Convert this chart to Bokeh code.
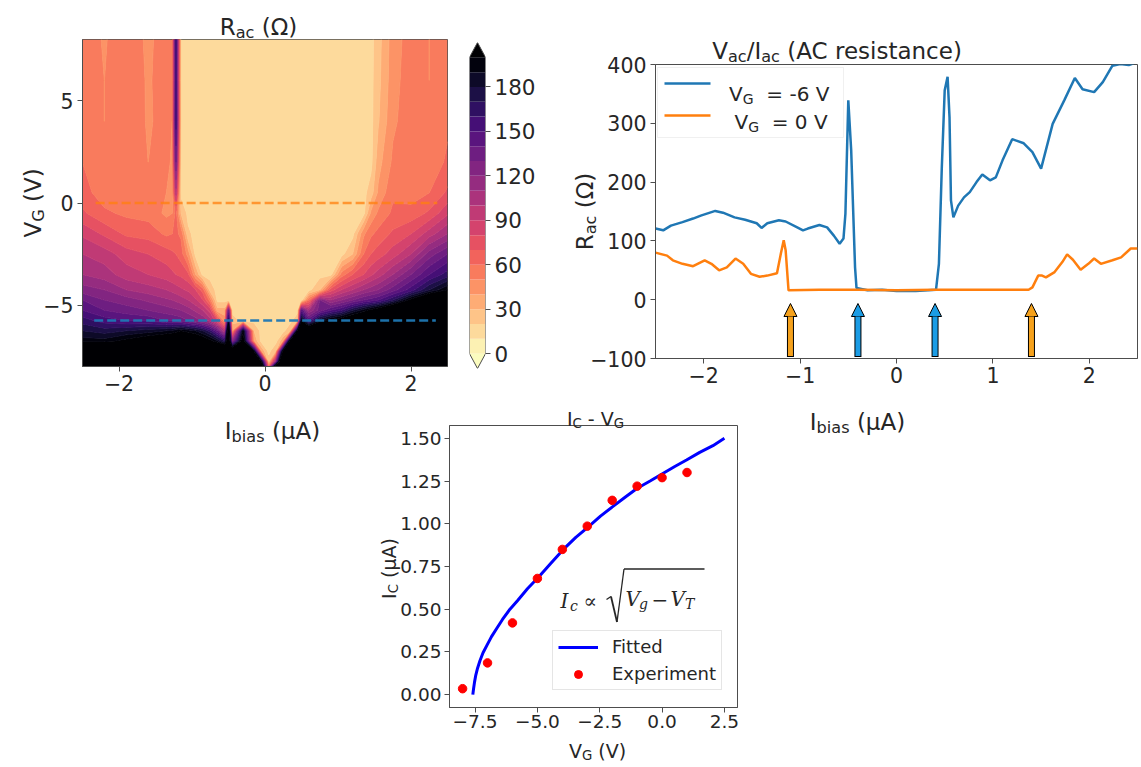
import numpy as np
from math import pi
from bokeh.plotting import figure
from bokeh.layouts import row, column
from bokeh.models import (Range1d, LinearAxis, FixedTicker, Label, Arrow, NormalHead,
                          BoxAnnotation, Legend, LegendItem)
from bokeh.palettes import Magma256
from bokeh.embed import file_html
from bokeh.resources import INLINE

# ---------------- data ----------------
S = 17  # superconducting-state R_ac (Ohm)
hm_i = [-2.5, -2.2, -1.9, -1.6, -1.35, -1.27, -1.22, -1.15, -1.05, -0.95, -0.85, -0.75,
        -0.65, -0.55, -0.5, -0.45, -0.3, -0.15, -0.05, 0.05, 0.15, 0.25, 0.35, 0.45, 0.5,
        0.6, 0.75, 0.9, 1.05, 1.2, 1.35, 1.45, 1.55, 1.75, 2.0, 2.25, 2.5]
hm_vg = [8, 6, 4, 2, 0.5, -0.5, -1.5, -2.5, -3.5, -4.25, -4.75, -5.25, -5.75, -6.25,
         -6.75, -7.25, -7.75, -8]
r_p8 = [56, 49, 57, 48, 55, 52, 165] + [S] * 25 + [26, 45, 55, 50, 56]
r_p6 = [57, 50, 56, 49, 54, 51, 160] + [S] * 25 + [27, 46, 56, 50, 57]
r_p4 = [58, 50, 57, 49, 53, 50, 165] + [S] * 25 + [29, 48, 56, 51, 58]
r_p2 = [60, 52, 58, 50, 52, 49, 140] + [S] * 25 + [36, 52, 58, 53, 62]
r_p05 = [64, 55, 58, 52, 50, 48, 105] + [S] * 24 + [25, 42, 58, 55, 60, 72]
r_m05 = [72, 62, 58, 56, 48, 50, 65, 30] + [S] * 23 + [42, 52, 62, 64, 72, 88]
r_m15 = [88, 78, 68, 66, 58, 60, 62, 58, 22] + [S] * 21 + [48, 58, 63, 72, 80, 95, 110]
r_m25 = [100, 95, 85, 80, 75, 72, 70, 65, 45] + [S] * 20 + [30, 60, 70, 75, 85, 100, 125, 140]
r_m35 = ([110, 105, 95, 90, 85, 82, 80, 78, 72, 40] + [S] * 18 +
         [55, 70, 80, 88, 95, 110, 130, 150, 165])
r_m425 = ([125, 120, 110, 105, 100, 97, 95, 92, 88, 80, 65, 25] + [S] * 14 +
          [30, 75, 90, 100, 110, 115, 120, 135, 155, 180, 200])
r_m475 = ([140, 130, 125, 118, 112, 110, 108, 105, 100, 92, 80, 55] + [S] * 13 +
          [60, 130, 110, 120, 130, 140, 145, 150, 170, 205, 240, 260])
r_m525 = ([150, 140, 135, 130, 125, 123, 122, 120, 115, 108, 100, 85, 35, 35, 140] + [S] * 9 +
          [150, 110, 135, 150, 160, 180, 195, 205, 215, 240, 265, 285, 300])
r_m575 = ([165, 155, 150, 148, 140, 139, 138, 135, 130, 125, 118, 105, 80, 45, 180, 25] +
          [S] * 7 + [30, 200, 150, 190, 205, 215, 230, 240, 250, 260, 280, 300, 330, 350])
r_m625 = ([180, 175, 180, 185, 190, 192, 195, 200, 195, 190, 180, 165, 140, 100, 250, 40, 200,
           30] + [S] * 4 + [30, 220, 240, 250] + [300] * 11)
r_m675 = ([195, 195, 205, 215, 225, 228, 230, 235, 230, 225, 215, 205, 190, 170, 250, 120, 220,
           40] + [S] * 3 + [40, 230] + [300] * 14)
r_m725 = ([260, 270] + [280] * 10 + [270, 260, 260, 250, 240, 200, 40, S, 30, 220] + [300] * 15)
r_m775 = [300] * 18 + [200, 25, 120] + [300] * 16
r_m8 = [300] * 18 + [250, 60, 250] + [300] * 16
hm_r = [r_p8, r_p6, r_p4, r_p2, r_p05, r_m05, r_m15, r_m25, r_m35, r_m425, r_m475,
        r_m525, r_m575, r_m625, r_m675, r_m725, r_m775, r_m8]

cut_vg = [0.0, -5.75]          # gate voltages of the two cuts (dashed lines)
cut_i_start = [-2.32, -2.34]
cut_i_end = [2.36, 2.34]

cb_levels = list(range(0, 201, 10))
cb_over = 1000
cb_ticks = [0, 30, 60, 90, 120, 150, 180]

blue_i = [-2.5, -2.42, -2.34, -2.22, -2.11, -2.03, -1.88, -1.8, -1.68, -1.57, -1.45, -1.4,
          -1.34, -1.22, -1.15, -1.03, -0.97, -0.92, -0.8, -0.72, -0.65, -0.59, -0.55, -0.53,
          -0.5, -0.47, -0.43, -0.415, -0.3, -0.15, 0.0, 0.2, 0.41, 0.44, 0.47, 0.5, 0.53,
          0.55, 0.565, 0.59, 0.64, 0.7, 0.76, 0.83, 0.89, 0.97, 1.03, 1.1, 1.2, 1.32, 1.41,
          1.5, 1.62, 1.74, 1.85, 1.93, 2.05, 2.14, 2.24, 2.32, 2.41, 2.46]
blue_r = [121, 118, 126, 132, 138, 143, 151, 148, 140, 136, 130, 122, 130, 135, 133, 123,
          118, 121, 127, 123, 109, 95, 104, 146, 339, 254, 55, 20, 16, 17, 15, 15, 17, 61,
          225, 356, 379, 310, 169, 140, 160, 174, 183, 200, 213, 203, 208, 237, 273, 266,
          251, 223, 299, 339, 377, 358, 353, 370, 398, 401, 399, 402]
orange_i = [-2.5, -2.38, -2.32, -2.22, -2.11, -1.99, -1.92, -1.84, -1.76, -1.67, -1.59,
            -1.51, -1.42, -1.34, -1.24, -1.2, -1.17, -1.15, -1.12, -0.8, -0.4, 0.0, 0.4,
            0.8, 1.2, 1.37, 1.41, 1.47, 1.51, 1.55, 1.64, 1.72, 1.77, 1.83, 1.91, 1.99,
            2.05, 2.12, 2.24, 2.33, 2.43, 2.5]
orange_r = [80, 75, 67, 61, 57, 67, 61, 50, 55, 70, 61, 44, 39, 41, 45, 78, 101, 84, 16, 17,
            17, 16, 17, 17, 17, 17, 21, 41, 41, 38, 47, 64, 77, 68, 51, 61, 70, 61, 67, 72,
            87, 87]
crit_i = [-1.10, -0.40, 0.40, 1.40]
crit_series = ["0 V", "-6 V", "-6 V", "0 V"]

exp_vg = [-8, -7, -6, -5, -4, -3, -2, -1, 0, 1]
exp_ic = [0.035, 0.186, 0.42, 0.68, 0.85, 0.986, 1.137, 1.22, 1.27, 1.30]
fit_vg = [-7.59, -7.56, -7.52, -7.47, -7.40, -7.30, -7.18, -7.02, -6.84, -6.62, -6.40,
          -6.10, -5.80, -5.40, -4.94, -4.45, -3.96, -3.46, -2.97, -2.47, -1.98, -1.47,
          -1.01, -0.48, -0.02, 0.51, 0.98, 1.51, 2.04, 2.50]
fit_ic = [0.0, 0.035, 0.075, 0.115, 0.155, 0.20, 0.245, 0.29, 0.34, 0.39, 0.44, 0.50, 0.55,
          0.62, 0.69, 0.77, 0.85, 0.92, 0.98, 1.045, 1.10, 1.157, 1.206, 1.25, 1.29, 1.335,
          1.373, 1.418, 1.457, 1.50]

hm_xticks, hm_xlabels = [-2, 0, 2], ["\u22122", "0", "2"]
hm_yticks, hm_ylabels = [-5, 0, 5], ["\u22125", "0", "5"]
rac_xticks, rac_xlabels = [-2, -1, 0, 1, 2], ["\u22122", "\u22121", "0", "1", "2"]
rac_yticks = [-100, 0, 100, 200, 300, 400]
rac_ylabels = ["\u2212100", "0", "100", "200", "300", "400"]
ic_xticks = [-7.5, -5.0, -2.5, 0.0, 2.5]
ic_xlabels = ["\u22127.5", "\u22125.0", "\u22122.5", "0.0", "2.5"]
ic_yticks = [0.0, 0.25, 0.5, 0.75, 1.0, 1.25, 1.5]
ic_ylabels = ["0.00", "0.25", "0.50", "0.75", "1.00", "1.25", "1.50"]

# ---------------- styles ----------------
FONT = "DejaVu Sans"
MATHFONT = "DejaVu Serif"
TXT = "#262626"
SPINE = "#4d4d4d"
C0, C1 = "#1f77b4", "#ff7f0e"
ARROW_COL = {"0 V": "#f5a11c", "-6 V": "#1b9ce5"}
SUB, DROP = 0.7, 0.24
PAGE_W, STACK_H, PAGE_H = 1141, 762, 766

W = {' ': 0.318, '(': 0.390, ')': 0.390, '-': 0.361, '/': 0.337, '=': 0.838, 'A': 0.684,
     'C': 0.698, 'G': 0.775, 'I': 0.295, 'R': 0.695, 'V': 0.684, 'a': 0.613, 'b': 0.635,
     'c': 0.550, 'e': 0.615, 'i': 0.278, 'n': 0.634, 'r': 0.411, 's': 0.521, 't': 0.392,
     '\u03a9': 0.765, '\u03bc': 0.636, '\u2212': 0.838}
for d in "0123456789":
    W[d] = 0.636


def tw(s):
    return sum(W.get(c, 0.6) for c in s)


class Panel:
    def __init__(self, fig, fl, ft, fw, fh):
        self.f, self.fl, self.ft, self.fw, self.fh = fig, fl, ft, fw, fh

    def dx(self, px):
        xr = self.f.x_range
        return xr.start + (px - self.fl) / self.fw * (xr.end - xr.start)

    def dy(self, py):
        yr = self.f.y_range
        return yr.end - (py - self.ft) / self.fh * (yr.end - yr.start)

    def label(self, px, py, text, size, angle=0.0, font=FONT, style="normal"):
        self.f.add_layout(Label(x=self.dx(px), y=self.dy(py), text=text, angle=angle,
                                text_font=font, text_font_size=f"{size:.1f}px",
                                text_font_style=style, text_color=TXT,
                                text_align="left", text_baseline="alphabetic"))

    def rich(self, parts, px, py, size, align="center", vertical=False):
        ws = [tw(t) * size * (SUB if s else 1) for t, s in parts]
        total = sum(ws)
        pos = {"center": -total / 2, "left": 0.0, "right": -total}[align]
        for (t, s), w in zip(parts, ws):
            fs = size * (SUB if s else 1)
            lead = len(t) - len(t.lstrip(" "))
            p0 = pos + tw(" ") * fs * lead
            shift = size * DROP if s else 0.0
            if vertical:
                self.label(px + shift, py - p0, t.strip(" "), fs, angle=pi / 2)
            else:
                self.label(px + p0, py + shift, t.strip(" "), fs)
            pos += w

    def seg(self, x0, y0, x1, y1, color=TXT, width=1.3):
        self.f.add_layout(Arrow(start=None, end=None, x_start=self.dx(x0), y_start=self.dy(y0),
                                x_end=self.dx(x1), y_end=self.dy(y1), line_color=color,
                                line_width=width))


def make_fig(xr, yr, fw, fh, bl, br, bt, bb, axes=True):
    kw = dict(x_range=Range1d(*xr), y_range=Range1d(*yr), frame_width=fw, frame_height=fh,
              min_border_left=bl, min_border_right=br, min_border_top=bt, min_border_bottom=bb,
              output_backend="svg", toolbar_location=None, tools="", title=None)
    if not axes:
        kw.update(x_axis_type=None, y_axis_type=None)
    p = figure(**kw)
    p.frame_align = False
    p.background_fill_color = "white"
    p.border_fill_color = "white"
    p.outline_line_color = SPINE
    p.outline_line_width = 1
    if axes:
        p.grid.visible = False
    return p


def style_axis(ax, ticks, labels, size, standoff):
    ax.ticker = FixedTicker(ticks=ticks)
    ax.major_label_overrides = dict(zip(ticks, labels))
    ax.major_label_text_font = FONT
    ax.major_label_text_font_size = f"{size}px"
    ax.major_label_text_color = TXT
    ax.major_label_standoff = standoff
    ax.major_tick_in = 0
    ax.major_tick_out = 5
    ax.major_tick_line_color = SPINE
    ax.minor_tick_line_color = None
    ax.axis_line_color = SPINE


# ---------------- text overlay (whole page, transparent) ----------------
OV = make_fig((0, PAGE_W), (PAGE_H, 0), PAGE_W, PAGE_H, 0, 0, 0, 0, axes=False)
OV.outline_line_color = None
OV.background_fill_alpha = 0
OV.border_fill_alpha = 0
POV = Panel(OV, 0, 0, PAGE_W, PAGE_H)

# ---------------- heatmap ----------------
A = make_fig((-2.5, 2.5), (-8, 8), 365, 327, 82, 13, 39, 74)
for row_vals in hm_r:
    assert len(row_vals) == len(hm_i)
Z = np.array(hm_r[::-1], dtype=float)
vg_up = np.array(hm_vg[::-1], dtype=float)
n_b = len(cb_levels) - 1
band_colors = [Magma256[min(int((1 - (k + 0.5) / n_b) * 256), 255)] for k in range(n_b)]
band_colors_ext = band_colors + [Magma256[0]]
levels_ext = cb_levels + [cb_over]
line_colors = [band_colors_ext[0]] + band_colors_ext
A.contour(np.array(hm_i), vg_up, Z, levels_ext, fill_color=band_colors_ext,
          line_color=line_colors, line_width=1)
for vg, i0, i1, col, al in zip(cut_vg, cut_i_start, cut_i_end, [C1, C0], [0.75, 0.95]):
    A.line([i0, i1], [vg, vg], line_color=col, line_alpha=al, line_width=2.5, line_dash="9 4")
style_axis(A.xaxis[0], hm_xticks, hm_xlabels, 20.5, 3)
style_axis(A.yaxis[0], hm_yticks, hm_ylabels, 20.5, 4)
POV.rich([("R", 0), ("ac", 1), (" (\u03a9)", 0)], 258, 26, 23)
POV.rich([("I", 0), ("bias", 1), (" (\u03bcA)", 0)], 272, 430, 23)
POV.rich([("V", 0), ("G", 1), (" (V)", 0)], 32, 202.5, 23, vertical=True)

# ---------------- colorbar ----------------
ext = 0.05 * (cb_levels[-1] - cb_levels[0])
CB = make_fig((0, 1), (cb_levels[0] - ext, cb_levels[-1] + ext), 16, 326, 9, 75, 42, 72, axes=False)
CB.outline_line_color = None
CB.quad(left=0, right=1, bottom=cb_levels[:-1], top=cb_levels[1:], fill_color=band_colors,
        line_color=None)
CB.patch([0, 1, 0.5], [cb_levels[0]] * 2 + [cb_levels[0] - ext], fill_color=Magma256[255],
         line_color=None)
CB.patch([0, 1, 0.5], [cb_levels[-1]] * 2 + [cb_levels[-1] + ext], fill_color=Magma256[0],
         line_color=None)
CB.patch([0.5, 1, 1, 0.5, 0, 0],
         [cb_levels[0] - ext, cb_levels[0], cb_levels[-1], cb_levels[-1] + ext, cb_levels[-1],
          cb_levels[0]], fill_color=None, line_color=SPINE, line_width=1)
cb_ax = LinearAxis()
CB.add_layout(cb_ax, "right")
style_axis(cb_ax, cb_ticks, [str(t) for t in cb_ticks], 21.5, 4)
cb_ax.axis_line_color = None

# ---------------- AC resistance line chart ----------------
C = make_fig((-2.5, 2.5), (-100, 400), 482, 294, 95, 4, 64, 82)
PC = Panel(C, 655, 64, 482, 294)
C.line(blue_i, blue_r, line_color=C0, line_width=2.5)
C.line(orange_i, orange_r, line_color=C1, line_width=2.5)
tip_y, base_y, head = 303, 355.5, 13
for xi, ser in zip(crit_i, crit_series):
    col = ARROW_COL[ser]
    C.add_layout(Arrow(start=None, end=None, x_start=xi, y_start=PC.dy(base_y + 1),
                       x_end=xi, y_end=PC.dy(tip_y + head - 1), line_color="black",
                       line_width=7))
    C.add_layout(Arrow(start=None, end=NormalHead(size=head, fill_color=col, line_color="black",
                                                  line_width=1),
                       x_start=xi, y_start=PC.dy(base_y), x_end=xi, y_end=PC.dy(tip_y),
                       line_color=col, line_width=5))
C.add_layout(BoxAnnotation(left=PC.dx(657), right=PC.dx(843), top=PC.dy(67), bottom=PC.dy(137),
                           fill_color="white", fill_alpha=0.8, line_color="#cccccc",
                           line_width=1))
PC.seg(664, 83, 710, 83, color=C0, width=2.5)
PC.seg(664, 115, 710, 115, color=C1, width=2.5)
PC.rich([("V", 0), ("G", 1), ("  = -6 V", 0)], 728.6, 93.3, 20, align="left")
PC.rich([("V", 0), ("G", 1), ("  = 0 V", 0)], 734, 121.7, 20, align="left")
style_axis(C.xaxis[0], rac_xticks, rac_xlabels, 20.5, 3)
style_axis(C.yaxis[0], rac_yticks, rac_ylabels, 20.5, 4)
POV.rich([("V", 0), ("ac", 1), ("/I", 0), ("ac", 1), (" (AC resistance)", 0)], 837, 50, 23)
POV.rich([("I", 0), ("bias", 1), (" (\u03bcA)", 0)], 857, 421, 23)
POV.rich([("R", 0), ("ac", 1), (" (\u03a9)", 0)], 584, 211, 23, vertical=True)

# ---------------- Ic - VG ----------------
D = make_fig((-8.525, 3.025), (-0.075, 1.575), 288, 282, 97, 15, 25, 55)
D.border_fill_alpha = 0
PD = Panel(D, 449, 425, 288, 282)
fit_r = D.line(fit_vg, fit_ic, line_color="#0000ff", line_width=3)
exp_r = D.scatter(exp_vg, exp_ic, size=8.5, fill_color="#ff0000", line_color="#ff0000")
style_axis(D.xaxis[0], ic_xticks, ic_xlabels, 18.5, 2)
style_axis(D.yaxis[0], ic_yticks, ic_ylabels, 18.5, 3)
leg = Legend(items=[LegendItem(label="Fitted", renderers=[fit_r]),
                    LegendItem(label="Experiment", renderers=[exp_r])],
             location=(103, 17), label_text_font=FONT, label_text_font_size="18px",
             label_text_color=TXT, glyph_width=40, glyph_height=20, label_standoff=14,
             padding=5, spacing=6, margin=0, border_line_color="#cccccc",
             border_line_width=1, background_fill_alpha=0.8)
D.add_layout(leg)
POV.rich([("I", 0), ("C", 1), (" - V", 0), ("G", 1)], 595, 418, 19)
POV.rich([("V", 0), ("G", 1), (" (V)", 0)], 597, 750, 19)
POV.rich([("I", 0), ("C", 1), (" (\u03bcA)", 0)], 388, 568, 19, vertical=True)
# formula  I_c ∝ sqrt(V_g - V_T)
PD.label(560, 600, "I", 20, font=MATHFONT, style="italic")
PD.label(569.5, 605, "c", 14, font=MATHFONT, style="italic")
PD.label(583, 600, "\u221d", 20, font=MATHFONT)
PD.seg(606, 599, 610.5, 596)
PD.seg(610.5, 596, 616.5, 621.5, width=1.8)
PD.seg(616.5, 621.5, 623.5, 568.5)
PD.seg(623.5, 568.5, 704, 568.5)
PD.label(625, 598.5, "V", 20, font=MATHFONT, style="italic")
PD.label(638.5, 603.5, "g", 14, font=MATHFONT, style="italic")
PD.label(651, 598.5, "\u2212", 20, font=MATHFONT)
PD.label(670, 598.5, "V", 20, font=MATHFONT, style="italic")
PD.label(684.5, 603.5, "T", 14, font=MATHFONT, style="italic")

D.margin = (-40, 0, 0, 352)
OV.margin = (-STACK_H, 0, 0, 0)
layout = column(row(A, CB, C), D, OV)
with open("out.html", "w", encoding="utf-8") as fh:
    fh.write(file_html(layout, INLINE, "chart"))
